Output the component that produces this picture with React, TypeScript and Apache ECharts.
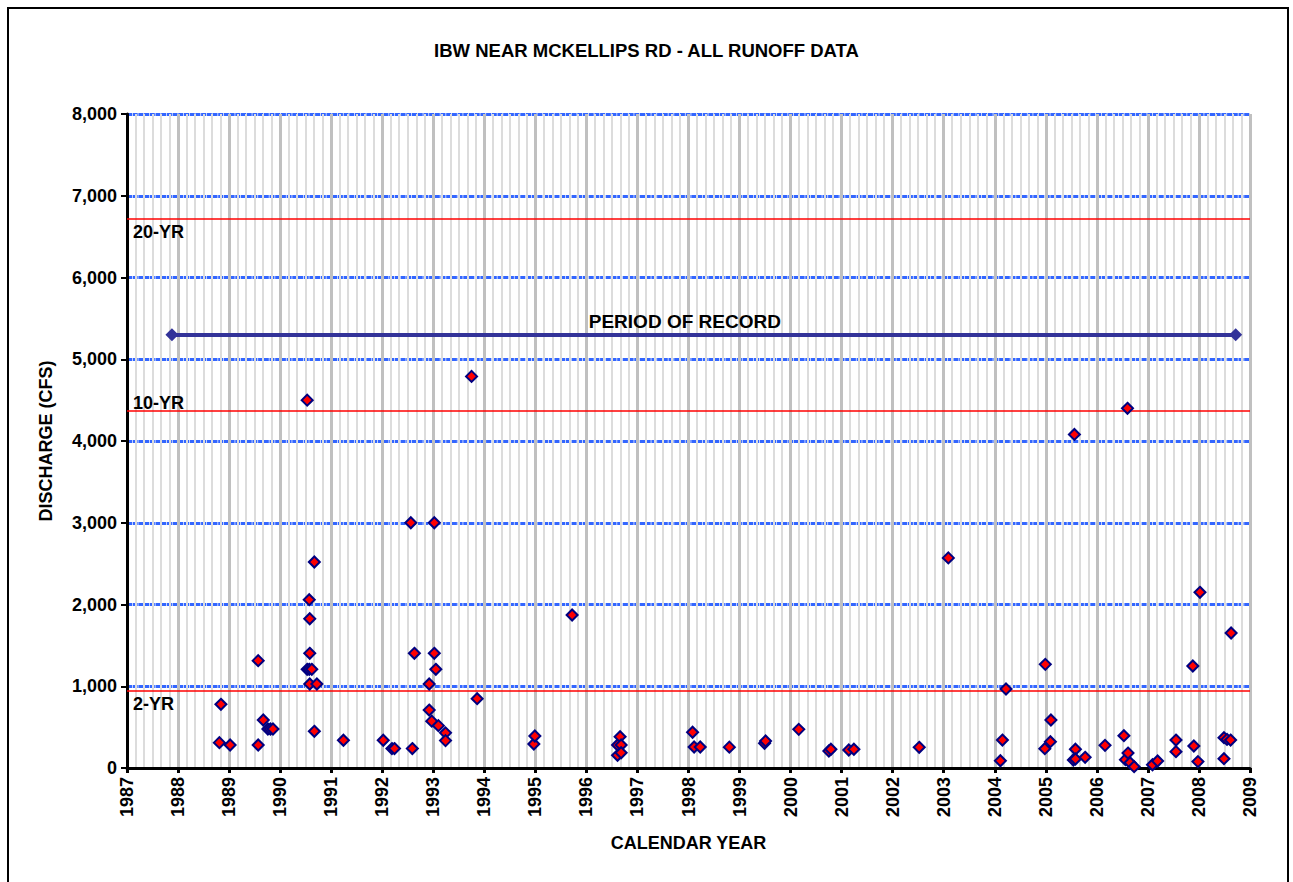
import React, { useEffect, useRef } from "react";
import * as echarts from "echarts";

// Decimal calendar year of each runoff event
const eventYears: number[] = [
  1988.81, 1988.84, 1989.02, 1989.57, 1989.57, 1989.67, 1989.76, 1989.81, 1989.86,
  1990.53, 1990.53, 1990.57, 1990.58, 1990.58, 1990.57, 1990.62, 1990.58, 1990.72, 1990.67, 1990.67,
  1991.24, 1992.02, 1992.19, 1992.24, 1992.56, 1992.59, 1992.63, 1992.92, 1992.92, 1992.97,
  1993.02, 1993.02, 1993.05, 1993.10, 1993.24, 1993.24, 1993.75, 1993.86,
  1994.97, 1994.99, 1995.72, 1996.61, 1996.61, 1996.66, 1996.68, 1996.68,
  1998.08, 1998.11, 1998.23, 1998.80, 1999.49, 1999.51, 2000.16, 2000.75, 2000.79,
  2001.14, 2001.24, 2002.52, 2003.09, 2004.11, 2004.15, 2004.22,
  2004.98, 2004.99, 2005.09, 2005.10, 2005.54, 2005.56, 2005.58, 2005.58, 2005.77,
  2006.16, 2006.53, 2006.56, 2006.60, 2006.61, 2006.65, 2006.73, 2007.09, 2007.19,
  2007.55, 2007.55, 2007.88, 2007.90, 2007.98, 2008.02, 2008.49, 2008.49, 2008.55, 2008.62, 2008.63,
];

// Peak discharge (CFS) of each runoff event
const eventDischarge: number[] = [
  310, 779, 281, 1313, 281, 587, 477, 477, 477,
  4500, 1207, 2059, 1826, 1403, 1207, 1207, 1028, 1028, 449, 2520,
  339, 339, 238, 238, 3000, 238, 1403, 1028, 709, 573,
  3000, 1403, 1207, 518, 430, 335, 4790, 848,
  294, 391, 1872, 281, 155, 383, 281, 187,
  437, 257, 257, 255, 302, 330, 473, 208, 229,
  220, 229, 253, 2570, 89, 342, 966,
  236, 1268, 322, 587, 98, 4080, 229, 110, 131,
  277, 395, 102, 4400, 183, 65, 16, 40, 86,
  342, 200, 1248, 269, 78, 2149, 371, 114, 350, 342, 1651,
];

// Return-period flood discharges
const returnPeriodNames: string[] = ["2-YR", "10-YR", "20-YR"];
const returnPeriodValues: number[] = [940, 4375, 6720];

// Period of record
const recordStart = 1987.88;
const recordEnd = 2008.72;
const recordLevel = 5300;

const FONT = "'Liberation Sans', Arial, sans-serif";

export default function App() {
  const ref = useRef<HTMLDivElement>(null);

  useEffect(() => {
    if (!ref.current) return;
    const chart = echarts.init(ref.current, null, { renderer: "svg" });
    const boldText = { fontFamily: FONT, fontWeight: "bold" as const, color: "#000", fontSize: 18 };

    chart.setOption({
      animation: false,
      backgroundColor: "#fff",
      title: {
        text: "IBW NEAR MCKELLIPS RD - ALL RUNOFF DATA",
        left: "center",
        top: 36,
        textStyle: { ...boldText, fontSize: 18.5 },
      },
      graphic: [
        {
          type: "rect",
          silent: true,
          shape: { x: 8, y: 8, width: 1280, height: 1000 },
          style: { fill: "none", stroke: "#000", lineWidth: 2 },
        },
      ],
      grid: { left: 127, top: 114, width: 1123, height: 654, containLabel: false },
      xAxis: {
        type: "value",
        min: 1987,
        max: 2009,
        interval: 1,
        name: "CALENDAR YEAR",
        nameLocation: "middle",
        nameGap: 66,
        nameTextStyle: { ...boldText },
        axisLine: { show: true, onZero: false, lineStyle: { color: "#000", width: 3 } },
        axisTick: { show: true, length: 5, lineStyle: { color: "#000", width: 3 } },
        axisLabel: {
          ...boldText,
          rotate: 90,
          margin: 9,
          formatter: (v: number) => String(v),
        },
        splitLine: { show: true, lineStyle: { color: "#c0c0c0", width: 3 } },
        minorTick: { show: false, splitNumber: 6 },
        minorSplitLine: { show: true, lineStyle: { color: "#dcdcdc", width: 2 } },
      },
      yAxis: {
        type: "value",
        min: 0,
        max: 8000,
        interval: 1000,
        name: "DISCHARGE (CFS)",
        nameLocation: "middle",
        nameGap: 72,
        nameTextStyle: { ...boldText },
        axisLine: { show: true, lineStyle: { color: "#000", width: 3 } },
        axisTick: { show: true, length: 6, lineStyle: { color: "#000", width: 2 } },
        axisLabel: {
          ...boldText,
          margin: 10,
          formatter: (v: number) => v.toLocaleString("en-US"),
        },
        splitLine: { show: true, lineStyle: { color: "#3366ff", width: 3, type: [5, 0.7] } },
      },
      series: [
        {
          type: "line",
          data: [],
          silent: true,
          markLine: {
            silent: true,
            symbol: ["none", "none"],
            lineStyle: { color: "#ff0000", width: 1.5, type: "solid" },
            data: returnPeriodValues.map((v, i) => ({
              yAxis: v,
              name: returnPeriodNames[i],
              label: {
                show: true,
                formatter: returnPeriodNames[i],
                position: i === 1 ? "insideStartTop" : "insideStartBottom",
                distance: i === 1 ? [6, -2] : [6, 4],
                ...boldText,
              },
            })),
          },
        },
        {
          type: "line",
          data: [],
          silent: true,
          markLine: {
            silent: true,
            symbol: ["diamond", "diamond"],
            symbolSize: 13,
            lineStyle: { color: "#333399", width: 4, type: "solid" },
            itemStyle: { color: "#000080" },
            label: {
              show: true,
              position: "middle",
              formatter: "PERIOD OF RECORD",
              distance: 4,
              offset: [-19, 0],
              ...boldText,
              fontSize: 19,
            },
            data: [
              [
                { coord: [recordStart, recordLevel] },
                { coord: [recordEnd, recordLevel] },
              ],
            ],
          },
        },
        {
          type: "scatter",
          z: 5,
          symbol: "diamond",
          symbolSize: 11,
          itemStyle: { color: "#ff0000", borderColor: "#000080", borderWidth: 2, opacity: 1 },
          data: eventYears.map((y, i) => [y, eventDischarge[i]]),
        },
      ],
    });

    return () => chart.dispose();
  }, []);

  return (
    <div
      ref={ref}
      style={{ position: "absolute", left: 0, top: 0, width: 1293, height: 882 }}
    />
  );
}
